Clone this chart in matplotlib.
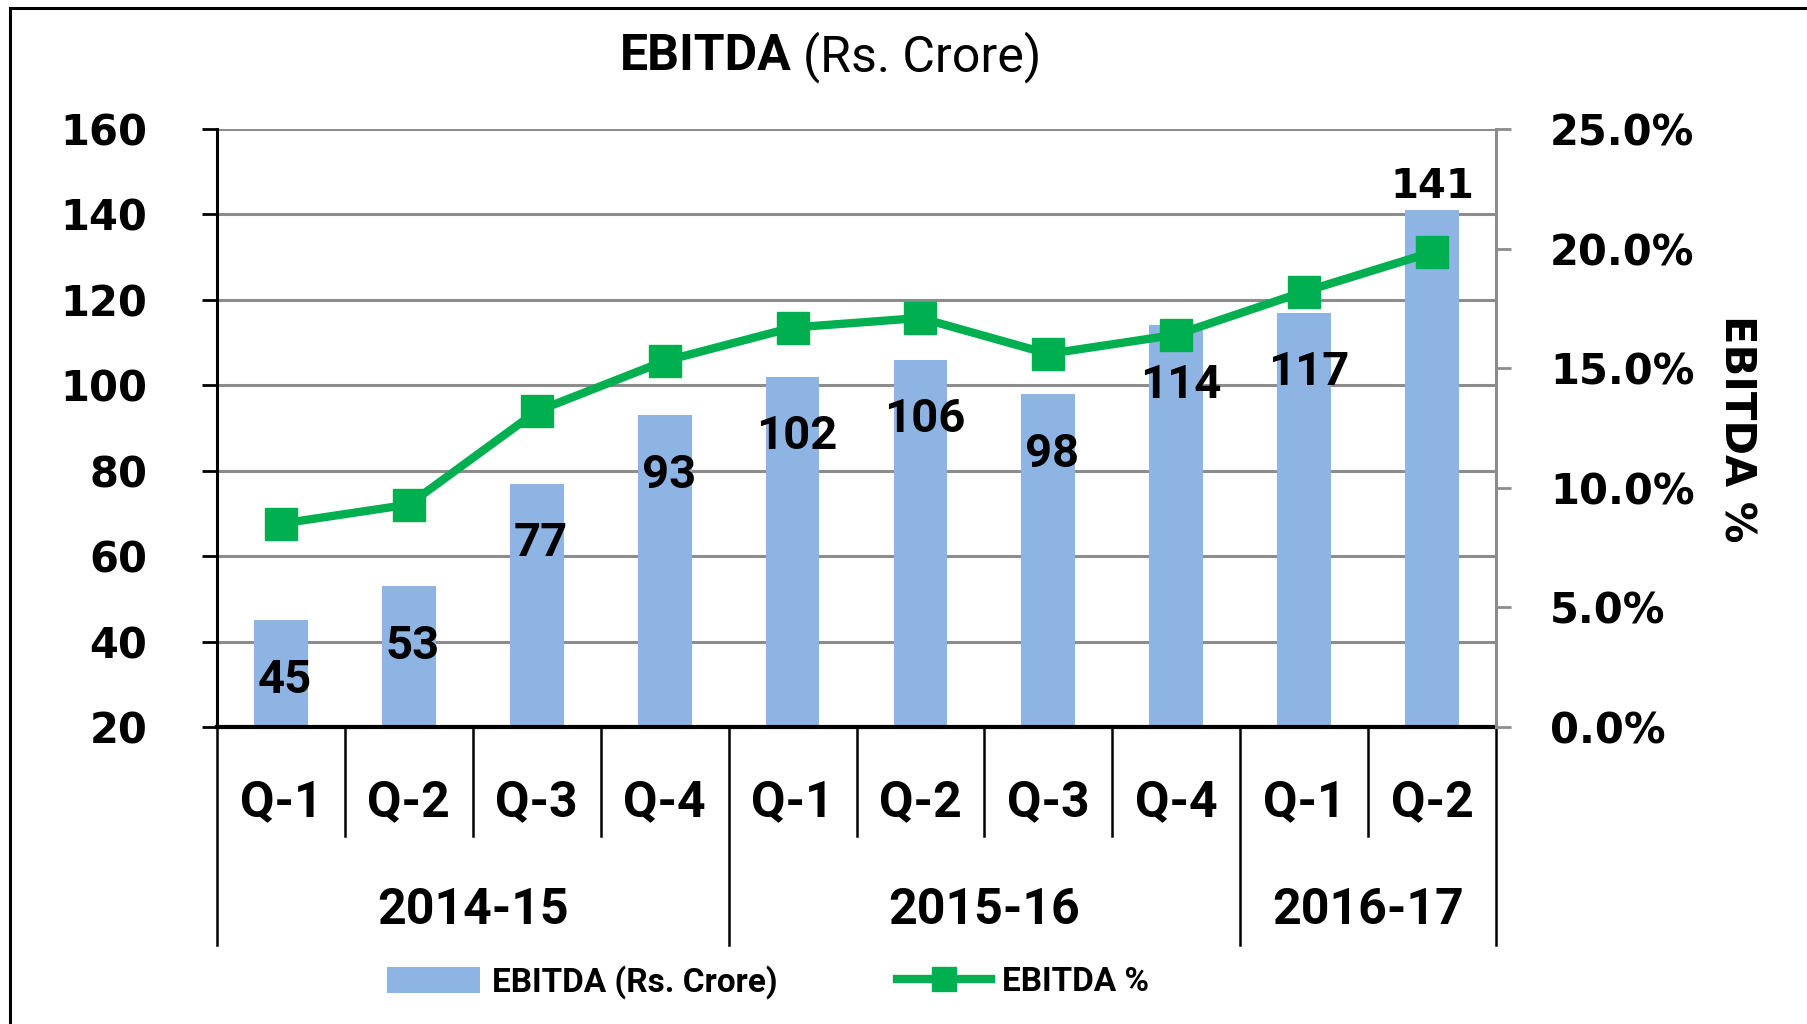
import matplotlib
matplotlib.use('Agg')
import matplotlib.pyplot as plt
from matplotlib.patches import Rectangle
from matplotlib.ticker import PercentFormatter

# data
years = ['2014-15', '2015-16', '2016-17']
quarters_per_year = [4, 4, 2]
quarters = ['Q-1', 'Q-2', 'Q-3', 'Q-4', 'Q-1', 'Q-2', 'Q-3', 'Q-4', 'Q-1', 'Q-2']
ebitda = [45, 53, 77, 93, 102, 106, 98, 114, 117, 141]
ebitda_pct = [0.085, 0.093, 0.132, 0.153, 0.167, 0.171, 0.156, 0.164, 0.182, 0.1985]
left_ticks = [20, 40, 60, 80, 100, 120, 140, 160]
right_ticks = [0.0, 0.05, 0.10, 0.15, 0.20, 0.25]

W, H = 1807, 1024
BLUE = '#8EB4E3'
GREEN = '#00B050'
GRID = '#8C8C8C'
CAL = 'Roboto'          # stand-in for Calibri
TAH = 'DejaVu Sans'     # stand-in for Tahoma

fig = plt.figure(figsize=(W / 100, H / 100), dpi=100)
ax = fig.add_axes([217 / W, 1 - 727 / H, (1496 - 217) / W, (727 - 129) / H])
ax2 = ax.twinx()

x = list(range(len(ebitda)))
bars = ax.bar(x, ebitda, width=0.42, color=BLUE, zorder=2, label='EBITDA (Rs. Crore)')
line, = ax2.plot(x, ebitda_pct, color=GREEN, lw=6, marker='s', markersize=23,
                 zorder=3, label='EBITDA %')

ax.set_xlim(-0.5, len(ebitda) - 0.5)
ax.set_ylim(left_ticks[0], left_ticks[-1])
ax2.set_ylim(right_ticks[0], right_ticks[-1])

ax.set_yticks(left_ticks)
ax.set_yticklabels([str(v) for v in left_ticks], fontfamily=TAH, fontweight='bold', fontsize=30)
ax2.set_yticks(right_ticks)
ax2.yaxis.set_major_formatter(PercentFormatter(xmax=1, decimals=1))
for t in ax2.get_yticklabels():
    t.set_fontfamily(TAH)
    t.set_fontweight('bold')
    t.set_fontsize(30)
ax.set_xticks([])

ax.set_axisbelow(True)
ax.yaxis.grid(True, color=GRID, lw=2.2)

ax.tick_params(axis='y', direction='out', length=11, width=2, color='black', pad=39)
ax2.tick_params(axis='y', direction='out', length=11, width=2, color=GRID, pad=28)

for s in ['top', 'right']:
    ax.spines[s].set_visible(False)
ax.spines['left'].set_linewidth(2.2)
ax.spines['bottom'].set_linewidth(3)
for s in ['top', 'left', 'bottom']:
    ax2.spines[s].set_visible(False)
ax2.spines['right'].set_color(GRID)
ax2.spines['right'].set_linewidth(2.2)

# data labels: inside end, except the last bar which sits above
for i, v in enumerate(ebitda):
    if i == len(ebitda) - 1:
        ax.annotate(str(v), (i, v), xytext=(0, 17), textcoords='offset points',
                    ha='center', va='center', fontsize=29, fontweight='bold',
                    fontfamily=TAH, zorder=5)
    else:
        ax.annotate(str(v), (i, v), xytext=(3, -43), textcoords='offset points',
                    ha='center', va='center', fontsize=34, fontweight='bold',
                    fontfamily=CAL, zorder=5)

# multi-level category axis
tr = ax.get_xaxis_transform()
q_bottom = (727 - 836) / 598
y_bottom = (727 - 945) / 598
for i, q in enumerate(quarters):
    ax.text(i, (727 - 803) / 598, q, transform=tr, ha='center', va='center',
            fontsize=36, fontweight='bold', fontfamily=CAL)

start = 0
edges = [-0.5]
for yr, n in zip(years, quarters_per_year):
    ax.text(start + (n - 1) / 2, (727 - 910) / 598, yr, transform=tr, ha='center',
            va='center', fontsize=36, fontweight='bold', fontfamily=CAL)
    for k in range(1, n):
        ax.plot([start + k - 0.5] * 2, [0, q_bottom], transform=tr, color='black',
                lw=1.8, clip_on=False)
    start += n
    edges.append(start - 0.5)
for e in edges:
    ax.plot([e, e], [0, y_bottom], transform=tr, color='black', lw=1.8, clip_on=False)

# title
fig.text(792 / W, 1 - 57 / H, 'EBITDA', ha='right', va='center', fontsize=36,
         fontweight='bold', fontfamily=CAL)
fig.text(803 / W, 1 - 57 / H, '(Rs. Crore)', ha='left', va='center', fontsize=36,
         fontfamily=CAL)

# right axis title
fig.text(1736 / W, 1 - 429 / H, 'EBITDA %', rotation=270, ha='center', va='center',
         fontsize=30, fontweight='bold', fontfamily=TAH)

leg = fig.legend([bars, line], ['EBITDA (Rs. Crore)', 'EBITDA %'], ncol=2,
                 loc='center', bbox_to_anchor=(768 / W, 1 - 982 / H), frameon=False,
                 prop={'family': CAL, 'weight': 'bold', 'size': 24},
                 handlelength=2.8, handleheight=0.85, handletextpad=0.35,
                 columnspacing=3.6, markerscale=0.75)

# outer chart frame (runs off the right and bottom edges)
fig.patches.append(Rectangle((10 / W, -0.1), 1.2, 1.1 - 8 / H, transform=fig.transFigure,
                             fill=False, edgecolor='black', lw=2.2))

fig.savefig('out.png', dpi=100)
